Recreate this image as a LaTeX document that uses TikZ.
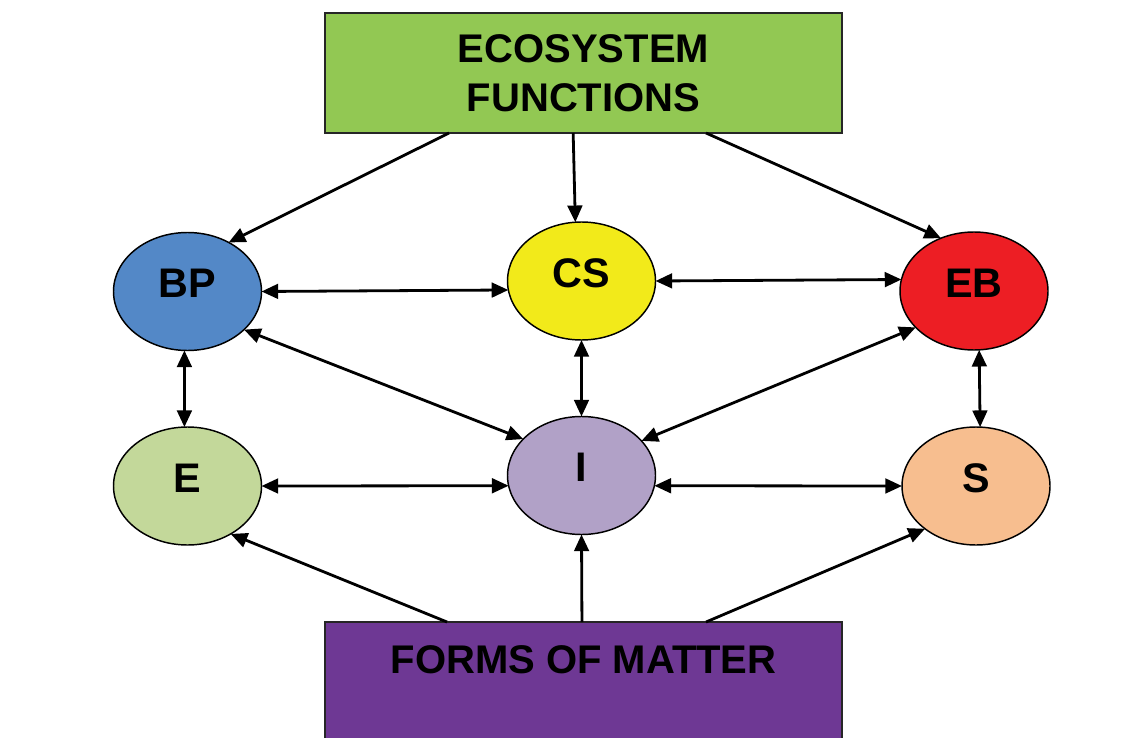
\documentclass[tikz,border=0pt]{standalone}
\usepackage{fontspec}
\setmainfont{Liberation Sans}
\usetikzlibrary{shapes.geometric,arrows.meta,calc}
\definecolor{cgreen}{RGB}{146,200,83}
\definecolor{cblue}{RGB}{83,136,199}
\definecolor{cyellow}{RGB}{242,234,26}
\definecolor{cred}{RGB}{237,30,36}
\definecolor{clgreen}{RGB}{195,216,154}
\definecolor{clilac}{RGB}{177,161,199}
\definecolor{corange}{RGB}{247,190,143}
\definecolor{cpurple}{RGB}{110,56,148}
\tikzset{
  ell/.style={ellipse, draw=black, line width=1.1pt, inner sep=0pt, outer sep=0pt,
    minimum width=111pt, minimum height=88.5pt,
    font=\fontsize{31}{36}\selectfont\bfseries, text height=9pt, text depth=0pt},
  bigbox/.style={rectangle, draw=black!85, line width=1.5pt, inner sep=0pt, outer sep=0pt,
    minimum width=387.75pt},
  boxtext/.style={font=\fontsize{30}{36.75}\selectfont\bfseries, align=center},
  tip/.tip={Triangle[length=12.5pt,width=11pt]},
  arr/.style={line width=2.1pt, -tip},
  darr/.style={line width=2.1pt, tip-tip}
}
\begin{document}
\begin{tikzpicture}[x=0.75pt,y=-0.75pt]
\clip (0,0) rectangle (1145,738);
\fill[white] (0,0) rectangle (1145,738);
% top and bottom boxes
\node[bigbox, fill=cgreen, minimum height=90pt] (ef) at (583.5,73) {};
\node[boxtext] (eft) at (583.5,73.5) {ECOSYSTEM\\FUNCTIONS};
\node[bigbox, fill=cpurple, minimum height=112.5pt, anchor=north] (fom) at (583.5,622) {};
\node[boxtext, anchor=base] (fomt) at (583.5,673) {FORMS OF MATTER};
% ellipses
\node[ell, fill=cblue]   (bp) at (187.5,291.5) {BP};
\node[ell, fill=cyellow] (cs) at (581.5,281) {CS};
\node[ell, fill=cred]    (eb) at (974,291) {EB};
\node[ell, fill=clgreen] (e)  at (187.5,486) {E};
\node[ell, fill=clilac]  (i)  at (581.5,475.5) {I};
\node[ell, fill=corange] (s)  at (976,486) {S};
% arrows from ecosystem functions
\draw[arr] ($(ef.south west)!0.24!(ef.south east)$) -- (bp.50);
\draw[arr] ($(ef.south west)!0.48!(ef.south east)$) -- (cs.96);
\draw[arr] ($(ef.south west)!0.737!(ef.south east)$) -- (eb.122);
% arrows from forms of matter
\draw[arr] ($(fom.north west)!0.236!(fom.north east)$) -- (e.-48.5);
\draw[arr] ($(fom.north west)!0.497!(fom.north east)$) -- (i.south);
\draw[arr] ($(fom.north west)!0.737!(fom.north east)$) -- (s.220.6);
% double arrows
\draw[darr] (bp.east) -- (cs.187);
\draw[darr] (cs.east) -- (eb.171.4);
\draw[darr] (bp.-34.9) -- (i.148.7);
\draw[darr] (eb.212.6) -- (i.30.8);
\draw[darr] (bp.-93) -- (e.93);
\draw[darr] (cs.south) -- (i.north);
\draw[darr] (eb.-85) -- (s.86);
\draw[darr] (e.east) -- (i.188);
\draw[darr] (i.-8) -- (s.west);
\end{tikzpicture}
\end{document}
